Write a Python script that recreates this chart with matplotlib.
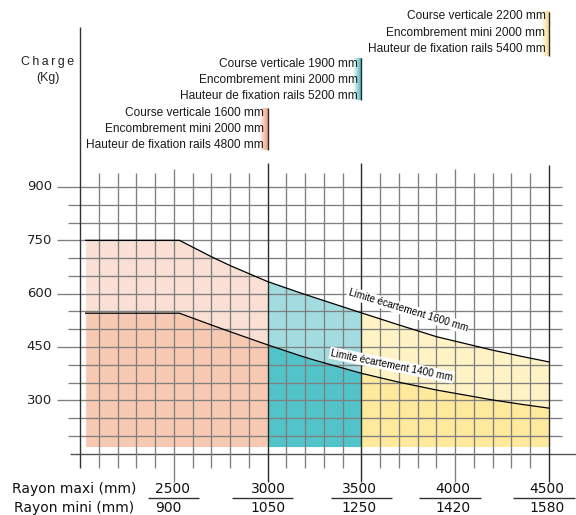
import numpy as np
import matplotlib
matplotlib.use("Agg")
import matplotlib.pyplot as plt
from matplotlib.colors import to_rgb

# ---------------- data ----------------
radius_maxi = [2500, 3000, 3500, 4000, 4500]
radius_mini = [900, 1050, 1250, 1420, 1580]
load_ticks = [300, 450, 600, 750, 900]

curve_x = [2030, 2530, 2700, 2800, 3000, 3170, 3250, 3500, 3700, 3900, 4200, 4350, 4500]
limit_1600 = [750, 750, 704, 679, 634, 603, 589, 546, 512, 479, 441, 424, 408]
limit_1400 = [545, 545, 512, 493, 456, 426, 413, 376, 351, 329, 301, 289, 278]

zone_bounds = [(2030, 3000), (3000, 3500), (3500, 4500)]
zone_light = ["#FAE0D4", "#A2DCE0", "#FFF3C6"]
zone_dark = ["#F7C9B2", "#52C3C8", "#FEE99C"]
strip_colors = ["#EE9E80", "#3FB0BA", "#F7D778"]

blocks = [
    ["Course verticale 1600 mm", "Encombrement mini 2000 mm", "Hauteur de fixation rails 4800 mm"],
    ["Course verticale 1900 mm", "Encombrement mini 2000 mm", "Hauteur de fixation rails 5200 mm"],
    ["Course verticale 2200 mm", "Encombrement mini 2000 mm", "Hauteur de fixation rails 5400 mm"],
]
block_line_x = [3000, 3500, 4500]
block_text_y = [[1108, 1063, 1018], [1246, 1201, 1156], [1381, 1333, 1288]]
block_span_y = [(1004, 1122), (1145, 1263), (1268, 1392)]

# ---------------- figure ----------------
fig = plt.figure(figsize=(5.76, 5.15), dpi=100)
ax = fig.add_axes([0, 0, 1, 1])
ax.axis("off")

cx = np.array(curve_x, dtype=float)
up = np.array(limit_1600, dtype=float)
lo = np.array(limit_1400, dtype=float)
fill_bottom = 170

for (a, b), cl, cd in zip(zone_bounds, zone_light, zone_dark):
    m = (cx >= a) & (cx <= b)
    ax.fill_between(cx[m], fill_bottom, lo[m], color=cd, lw=0, zorder=1)
    ax.fill_between(cx[m], lo[m], up[m], color=cl, lw=0, zorder=1)

grid_c = "#7f7f7f"
dark_c = "#2a2a2a"
x_left_minor, x_left_major, x_right = 1936, 1877, 4569

# horizontal grid
for kg in range(200, 901, 50):
    x0 = x_left_major if kg in load_ticks else x_left_minor
    ax.hlines(kg, x0, x_right, color=grid_c, lw=0.95, zorder=2)
ax.hlines(150, 1947, 4644, color="#555555", lw=1.0, zorder=2)

# vertical grid
for mm in range(2100, 4500, 100):
    if mm in radius_maxi:
        continue
    ax.vlines(mm, 110.6, 940, color=grid_c, lw=0.95, zorder=2)
for mm in (2500, 4000):
    ax.vlines(mm, 70, 951, color=grid_c, lw=0.95, zorder=2)
for mm, top in ((3000, 967), (3500, 967), (4500, 962)):
    ax.vlines(mm, 70, top, color=dark_c, lw=1.0, zorder=2)
ax.vlines(2000, 110.6, 1350, color="#333333", lw=1.0, zorder=2)

# curves
ax.plot(cx, up, color="black", lw=0.9, zorder=3)
ax.plot(cx, lo, color="black", lw=0.9, zorder=3)

ax.text(3748, 553, "Limite écartement 1600 mm", rotation=-17, ha="center", va="center",
        fontsize=7.2, family=["Liberation Sans", "DejaVu Sans"], zorder=4,
        rotation_mode="anchor",
        bbox=dict(facecolor="white", edgecolor="none", pad=0.8))
ax.text(3661, 399, "Limite écartement 1400 mm", rotation=-11.5, ha="center", va="center",
        fontsize=7.2, family=["Liberation Sans", "DejaVu Sans"], zorder=4,
        rotation_mode="anchor",
        bbox=dict(facecolor="white", edgecolor="none", pad=0.8))

# y tick labels
for kg in load_ticks:
    ax.text(1851, kg, str(kg), ha="right", va="center", fontsize=9.5, color="#222222")

# y axis title
ax.text(1829.5, 1251.6, "C\u2009h\u2009a\u2009r\u2009g\u2009e", ha="center", va="center", fontsize=8.9,
        family=["Liberation Sans", "DejaVu Sans"], color="#222222")
ax.text(1829.5, 1206.6, "(Kg)", ha="center", va="center", fontsize=8.9,
        family=["Liberation Sans", "DejaVu Sans"], color="#222222")

# annotation blocks
for lines, lx, tys, (y0, y1), sc in zip(blocks, block_line_x, block_text_y, block_span_y, strip_colors):
    rgb = np.array(to_rgb(sc))
    n = 32
    t = np.linspace(0, 1, n)[None, :, None]
    img = np.ones((1, n, 3)) * (1 - t) + rgb[None, None, :] * t
    ax.imshow(img, extent=[lx - 45, lx, y0, y1], aspect="auto", zorder=1, interpolation="bilinear")
    ax.vlines(lx, y0, y1, color=dark_c, lw=1.0, zorder=3)
    for s, ty in zip(lines, tys):
        ax.text(lx - 19, ty, s, ha="right", va="center", fontsize=8.6,
                family=["Liberation Sans", "DejaVu Sans"], color="#1a1a1a", zorder=4)

# bottom labels
row1_y, row2_y, sep_y = 50.6, -2.8, 25.3
ax.text(1970.7, row1_y, "Rayon maxi (mm)", ha="center", va="center", fontsize=10, color="#111111")
ax.text(1970.7, row2_y, "Rayon mini (mm)", ha="center", va="center", fontsize=10, color="#111111")
label_x = [2490, 3002, 3487, 3988, 4489]
sep_spans = [(2362, 2634), (2810, 3135), (3338, 3663), (3807, 4137), (4308, 4638)]
for i, (vmax, vmin, lxp, (s0, s1)) in enumerate(zip(radius_maxi, radius_mini, label_x, sep_spans)):
    if i == 0:
        ax.text(2400, row1_y, str(vmax), ha="left", va="center", fontsize=10, color="#111111")
        ax.text(2400, row2_y, str(vmin), ha="left", va="center", fontsize=10, color="#111111")
    else:
        ax.text(lxp, row1_y, str(vmax), ha="center", va="center", fontsize=10, color="#111111")
        ax.text(lxp, row2_y, str(vmin), ha="center", va="center", fontsize=10, color="#111111")
    ax.hlines(sep_y, s0, s1, color="#333333", lw=1.0)

ax.set_xlim(1573.6, 4643.9)
ax.set_ylim(-22.5, 1425.9)

fig.savefig("out.png", dpi=100)
